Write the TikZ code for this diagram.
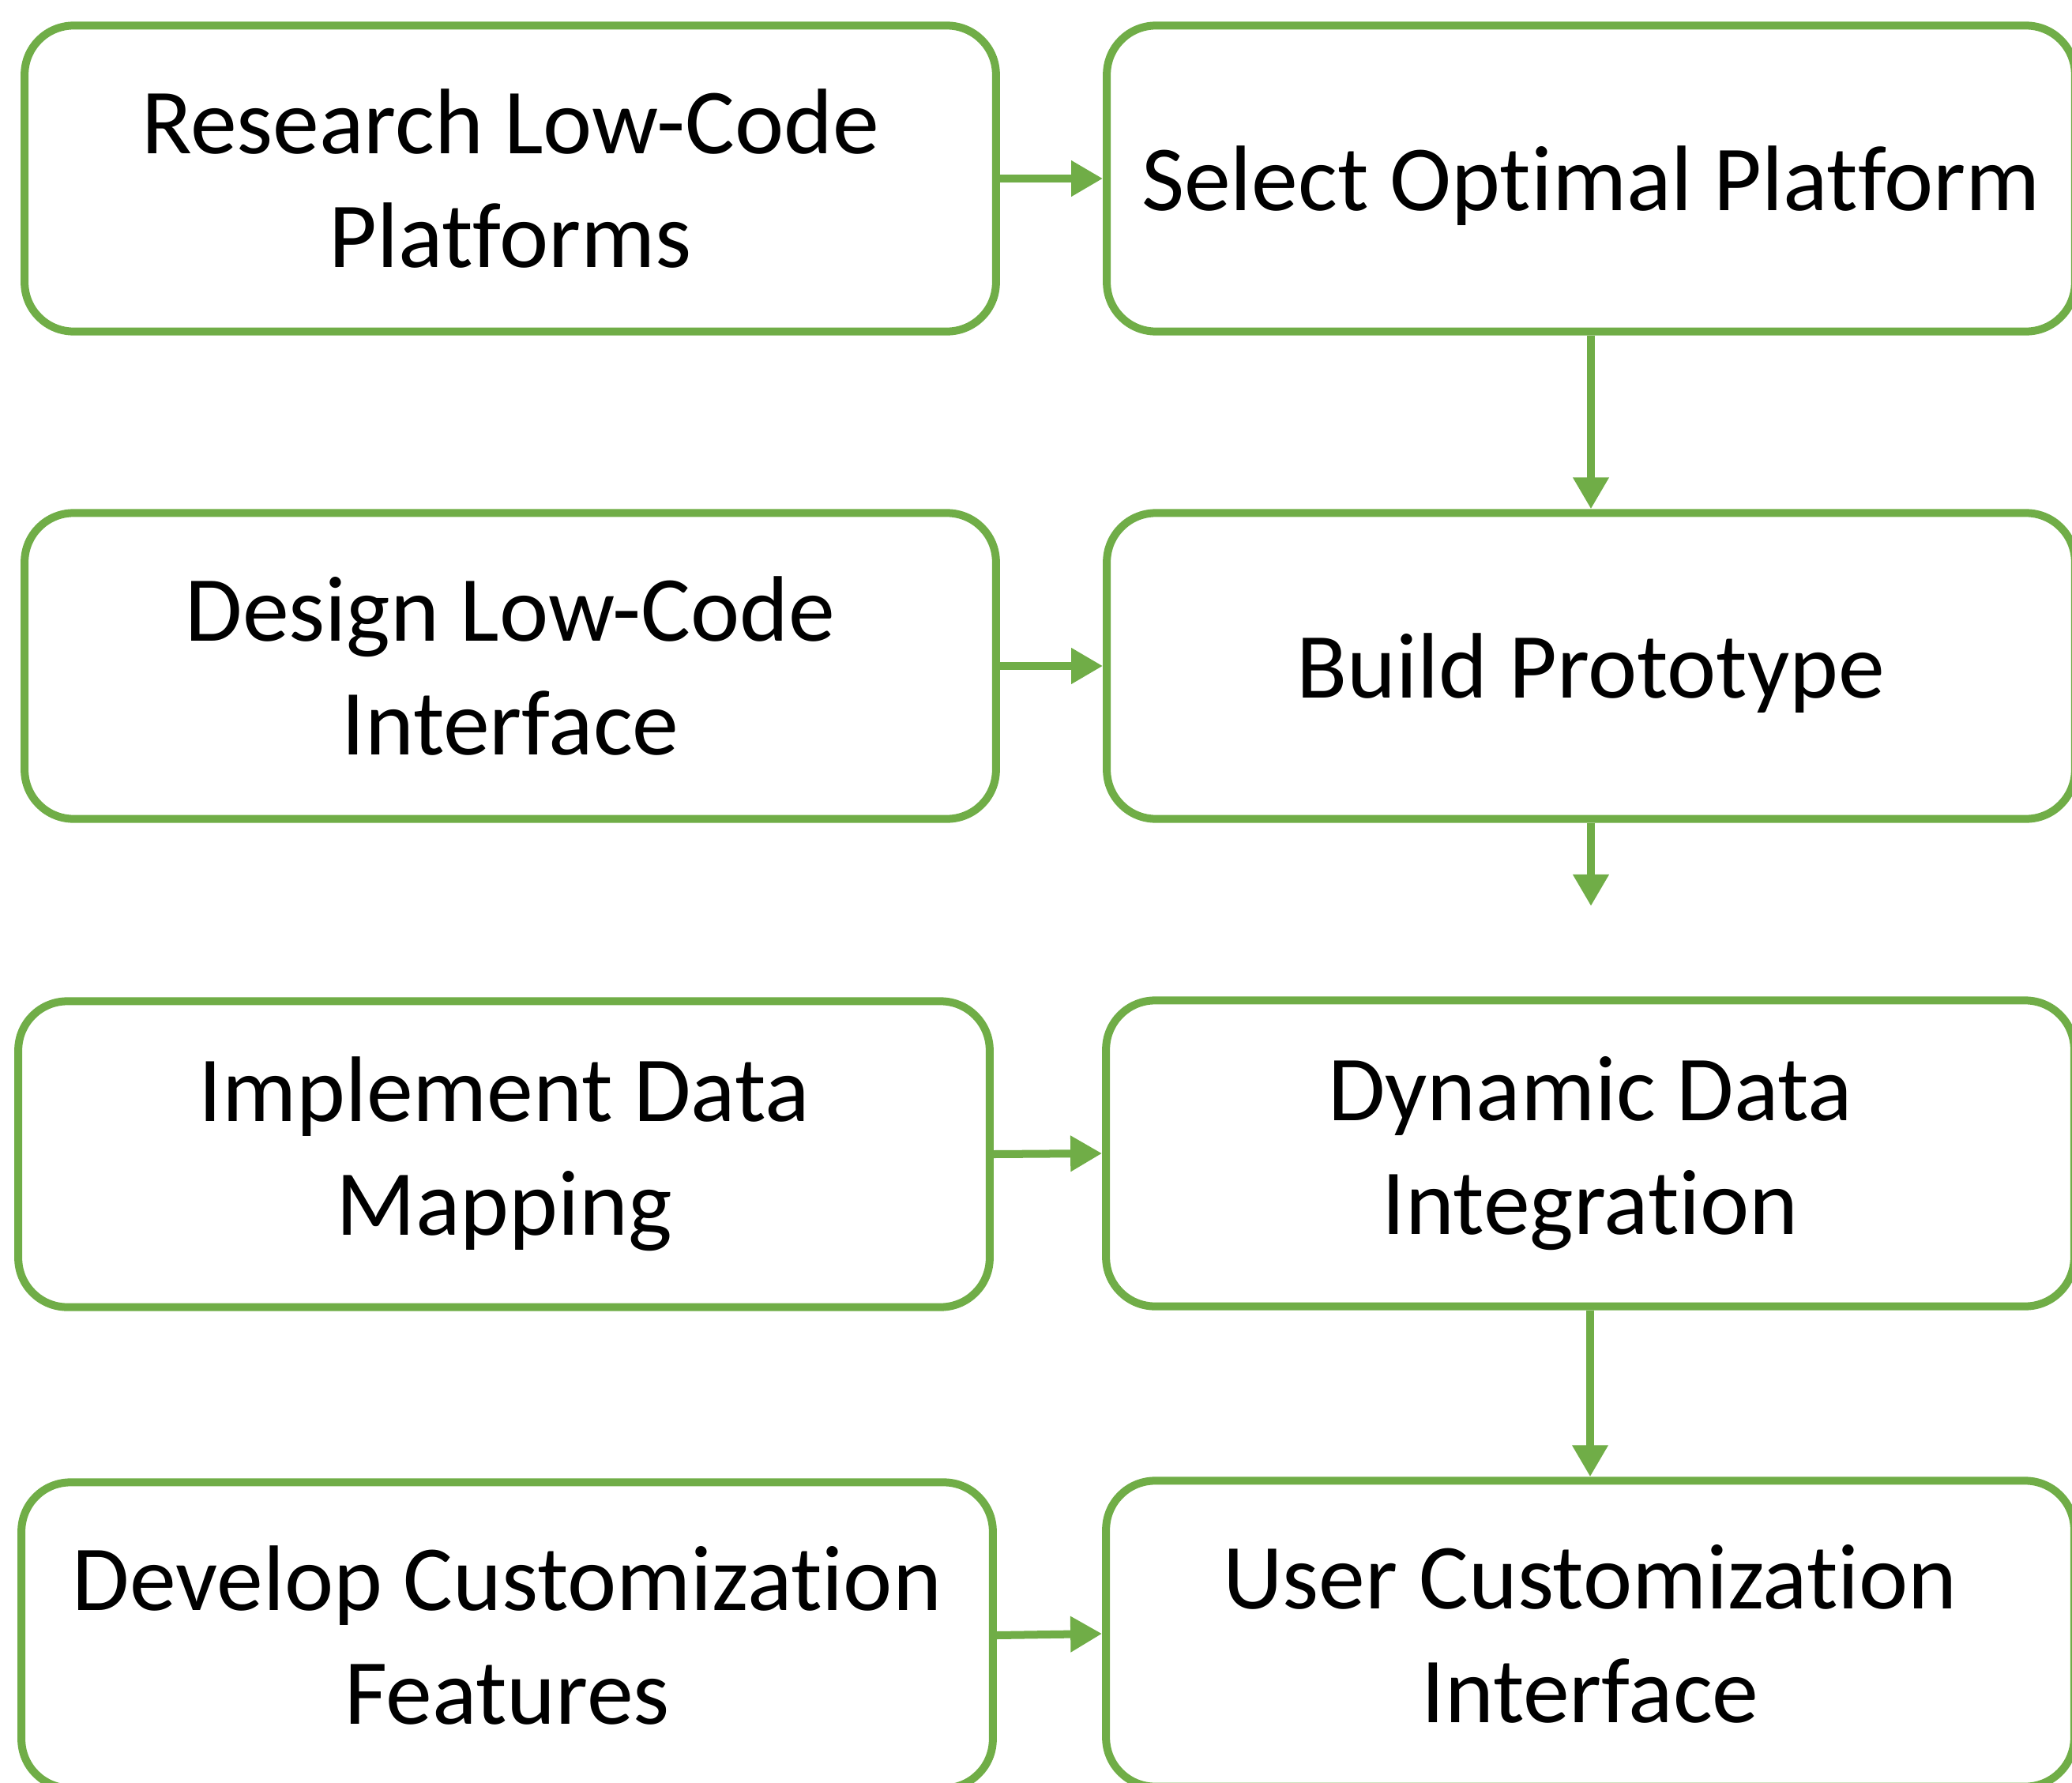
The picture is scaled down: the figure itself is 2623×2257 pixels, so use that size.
\documentclass[tikz,border=0pt]{standalone}
\usepackage{fontspec}
\setmainfont{Carlito}[Ligatures=NoCommon]
\usetikzlibrary{arrows.meta}
\definecolor{stepgreen}{HTML}{70AD47}

% single line labels sit on a fixed baseline below the middle
\newcommand{\oneline}[1]{\raisebox{-0.34em}[0pt][0pt]{#1}}

\begin{document}
\begin{tikzpicture}[x=0.01cm, y=-0.01cm,
    box/.style={draw=stepgreen, line width=0.1cm, rounded corners=0.62cm,
        minimum height=3.87cm, inner sep=0pt, align=center,
        font=\fontsize{33.5}{41}\selectfont},
    leftbox/.style={box, minimum width=12.29cm},
    rightbox/.style={box, minimum width=12.25cm},
    flow/.style={draw=stepgreen, line width=0.1cm,
        -{Triangle[length=0.4cm, width=0.43cm]}}]
    % Frame of the page, the outer boxes run off its edges
    \useasboundingbox (0,0) rectangle (2623,2257);
    \clip (0,0) rectangle (2623,2257);

    % Left column
    \node[leftbox] (research) at (646,226) {Research Low-Code\\Platforms};
    \node[leftbox] (design) at (646,843) {Design Low-Code\\Interface};
    \node[leftbox] (mapping) at (638,1461) {Implement Data\\Mapping};
    \node[leftbox] (features) at (642,2070) {Develop Customization\\Features};

    % Right column
    \node[rightbox] (select) at (2014,226) {\oneline{Select Optimal Platform}};
    \node[rightbox] (build) at (2014,843) {\oneline{Build Prototype}};
    \node[rightbox] (dynamic) at (2013,1460) {Dynamic Data\\Integration};
    \node[rightbox] (custom) at (2013,2068) {User Customization\\Interface};

    % Arrows across
    \draw[flow] (research.east) -- (select.west);
    \draw[flow] (design.east) -- (build.west);
    \draw[flow] (mapping.east) -- (dynamic.west);
    \draw[flow] (features.east) -- (custom.west);

    % Arrows down the right column
    \coordinate (gap) at (2014,1147);
    \draw[flow] (select.south) -- (build.north);
    \draw[flow] (build.south) -- (gap);
    \draw[flow] (dynamic.south) -- (custom.north);
\end{tikzpicture}
\end{document}
